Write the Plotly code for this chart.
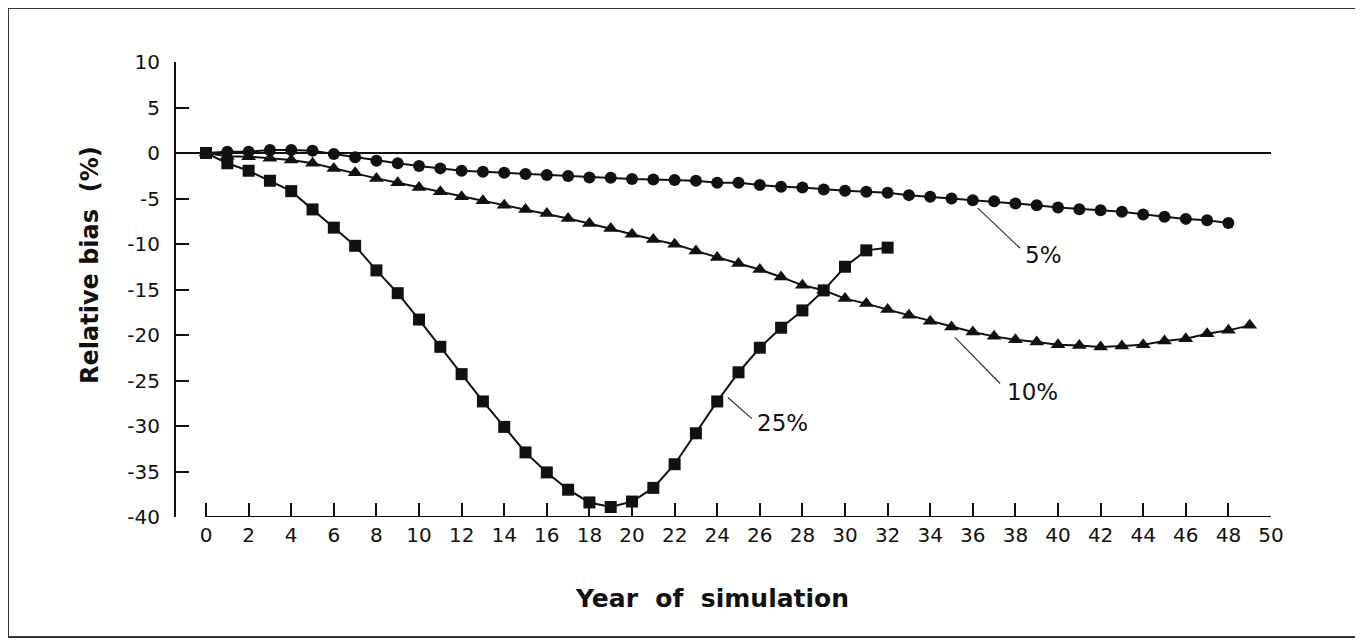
import plotly.graph_objects as go

# ---- data ----
years_5 = list(range(0, 49))
bias_5 = [0, 0.14, 0.14, 0.33, 0.33, 0.25, -0.11, -0.47, -0.85, -1.13,
          -1.43, -1.69, -1.95, -2.06, -2.17, -2.31, -2.42, -2.53, -2.68, -2.72,
          -2.86, -2.90, -2.97, -3.05, -3.27, -3.27, -3.52, -3.71, -3.78, -4.00,
          -4.15, -4.26, -4.37, -4.63, -4.81, -4.99, -5.18, -5.29, -5.54, -5.73,
          -5.98, -6.17, -6.28, -6.46, -6.75, -7.01, -7.24, -7.38, -7.70]

years_10 = list(range(0, 50))
bias_10 = [0, -0.35, -0.40, -0.58, -0.77, -1.13, -1.69, -2.17, -2.79, -3.27,
           -3.78, -4.26, -4.81, -5.25, -5.73, -6.20, -6.64, -7.19, -7.74, -8.29,
           -8.92, -9.50, -10.02, -10.76, -11.49, -12.15, -12.81, -13.62, -14.54, -15.09,
           -16.00, -16.55, -17.21, -17.84, -18.50, -19.13, -19.68, -20.15, -20.52, -20.78,
           -21.07, -21.15, -21.33, -21.20, -21.07, -20.67, -20.41, -19.86, -19.49, -18.94]

years_25 = list(range(0, 33))
bias_25 = [0, -1.13, -1.95, -3.05, -4.19, -6.2, -8.2, -10.2, -12.9, -15.4,
           -18.3, -21.3, -24.3, -27.3, -30.1, -32.9, -35.1, -37.0, -38.4, -38.9,
           -38.3, -36.8, -34.2, -30.8, -27.3, -24.1, -21.4, -19.2, -17.3, -15.1,
           -12.5, -10.7, -10.4]

x_ticks = list(range(0, 51, 2))
y_ticks = list(range(-40, 11, 5))
y_ticktext = [str(v) for v in y_ticks]

FONT = "DejaVu Sans"
INK = "#111111"

# page body has an 8px margin; plot area is placed at absolute 176..1271 x 62..517
PW, PH = 1095, 455
PL, PB = 176, 517

fig = go.Figure()
series = [
    (years_5, bias_5, "circle", 12, "5%"),
    (years_10, bias_10, "triangle-up", 13, "10%"),
    (years_25, bias_25, "square", 12, "25%"),
]
for xs, ys, sym, sz, name in series:
    fig.add_trace(go.Scatter(
        x=xs, y=ys, mode="lines+markers", name=name,
        line=dict(color=INK, width=2),
        marker=dict(symbol=sym, size=sz, color=INK, line=dict(width=0)),
        cliponaxis=False, showlegend=False,
    ))

# x-axis baseline only under the tick range
fig.add_shape(type="line", xref="x", yref="y", x0=0, x1=50, y0=-40, y1=-40,
              line=dict(color=INK, width=2))

# leader lines for series labels
leaders = [
    (36.24, -6.06, 38.22, -10.46),
    (35.16, -20.26, 37.28, -25.33),
    (24.5, -26.87, 25.63, -29.19),
]
for x0, y0, x1, y1 in leaders:
    fig.add_shape(type="line", xref="x", yref="y", x0=x0, y0=y0, x1=x1, y1=y1,
                  line=dict(color="#333333", width=1.2))

labels = [(38.36, -11.2, "5%"), (37.5, -26.3, "10%"), (25.77, -29.7, "25%")]
for lx, ly, txt in labels:
    fig.add_annotation(x=lx, y=ly, xref="x", yref="y", text=txt, showarrow=False,
                       xanchor="left", yanchor="middle",
                       font=dict(family=FONT, size=23, color=INK))

# frame around the whole figure
fig.add_shape(type="rect", xref="paper", yref="paper",
              x0=(8 - PL) / PW, x1=(1358 - PL) / PW,
              y0=(PB - 637) / PH, y1=(PB - 8) / PH,
              line=dict(color="#333333", width=2))

# axis titles
fig.add_annotation(xref="paper", yref="paper", x=(90 - PL) / PW, y=(PB - 265) / PH,
                   xanchor="center", yanchor="middle",
                   text="<b>Relative bias  (%)</b>", textangle=-90, showarrow=False,
                   font=dict(family=FONT, size=24, color=INK))
fig.add_annotation(xref="paper", yref="paper", x=(712 - PL) / PW, y=(PB - 598) / PH,
                   xanchor="center", yanchor="middle",
                   text="<b>Year  of  simulation</b>", showarrow=False,
                   font=dict(family=FONT, size=25, color=INK))

fig.update_layout(
    width=1355, height=632,
    margin=dict(l=PL - 8, r=1355 - (PL - 8) - PW, t=62 - 8, b=632 - (PB - 8)),
    paper_bgcolor="white", plot_bgcolor="white",
    xaxis=dict(range=[-1.41, 50], tickvals=x_ticks, ticktext=[str(v) for v in x_ticks],
               ticks="inside", ticklen=14, tickwidth=2, tickcolor=INK,
               showline=False, showgrid=False, zeroline=False,
               ticklabelstandoff=4,
               tickfont=dict(family=FONT, size=20, color=INK)),
    yaxis=dict(range=[-40, 10], tickvals=y_ticks, ticktext=y_ticktext,
               ticks="inside", ticklen=13, tickwidth=2, tickcolor=INK,
               showline=True, linecolor=INK, linewidth=2,
               showgrid=False, zeroline=True, zerolinecolor=INK, zerolinewidth=2,
               ticklabelstandoff=10,
               tickfont=dict(family=FONT, size=20, color=INK)),
)

fig.write_html("out.html")
